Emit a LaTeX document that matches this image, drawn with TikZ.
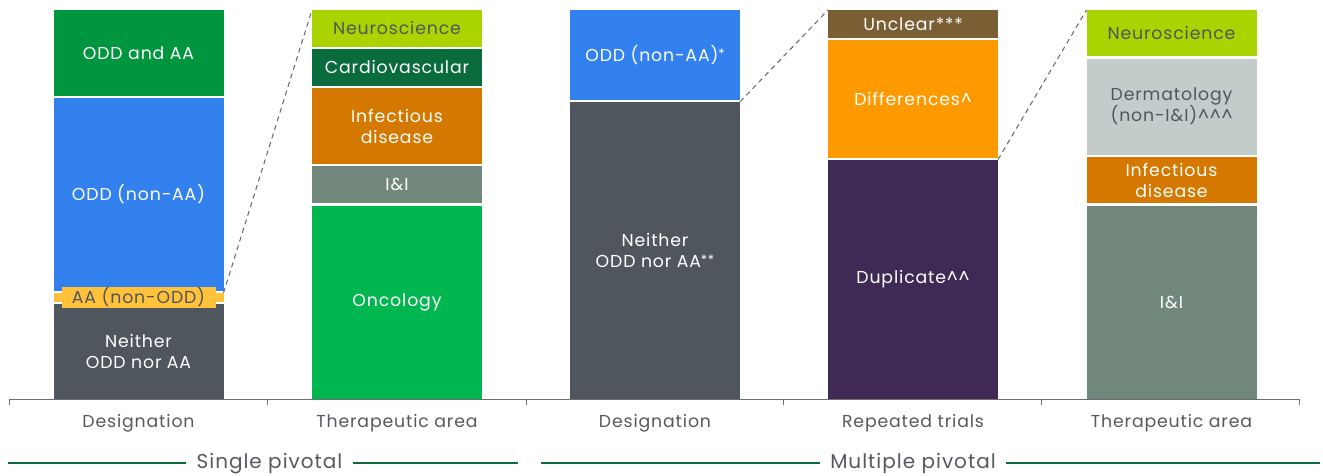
\documentclass[tikz,border=0pt]{standalone}
\usepackage{fontspec}
\setmainfont{Poppins}[LetterSpace=5]
\definecolor{cdark}{HTML}{4F565E}
\definecolor{cblue}{HTML}{3381EE}
\definecolor{cgreen}{HTML}{00963F}
\definecolor{cyellow}{HTML}{FFC23A}
\definecolor{clime}{HTML}{AAD400}
\definecolor{ccardio}{HTML}{0A6B3C}
\definecolor{cinf}{HTML}{D57800}
\definecolor{cii}{HTML}{72877B}
\definecolor{conc}{HTML}{00B74F}
\definecolor{cbrown}{HTML}{7A5E34}
\definecolor{corange}{HTML}{FF9900}
\definecolor{cpurple}{HTML}{3F2A56}
\definecolor{cderm}{HTML}{C3CCCB}
\definecolor{caxis}{HTML}{6E6E6E}
\definecolor{ctext}{HTML}{555A5F}
\definecolor{cgroup}{HTML}{0A6B3C}
\tikzset{
  seg/.style={rectangle, inner sep=0pt, outer sep=0pt, minimum width=170pt, align=center,
    font=\fontsize{17.3}{21}\selectfont, text=white},
  darktext/.style={text=cdark},
  zoomline/.style={draw=cdark!90, dash pattern=on 5pt off 4pt, line width=1pt},
  axisline/.style={draw=caxis, line width=0.9pt},
  axislabel/.style={font=\fontsize{17.3}{20}\selectfont, text=ctext},
  grouplabel/.style={font=\fontsize{20}{22}\selectfont, text=ctext, inner xsep=10pt},
  groupline/.style={draw=cgroup, line width=1.8pt}
}
\newcommand{\seg}[7]{% name, xcenter, ytop, ybottom, fill, extra, text
  \node[seg, fill=#5, minimum height={#4pt-#3pt}, #6] (#1) at (#2,{(#3+#4)/2}) {#7};}
\newcommand{\stars}[1]{\raisebox{2.5pt}{\fontsize{13}{13}\selectfont #1}}
\begin{document}
\begin{tikzpicture}[x=1pt,y=-1pt]
\useasboundingbox[fill=white] (0,0) rectangle (1323,475);
% Bar 1: Designation (single pivotal)
\seg{b1a}{138.5}{10}{96}{cgreen}{}{ODD and AA}
\seg{b1b}{138.5}{97.5}{290.5}{cblue}{}{ODD (non-AA)}
\seg{b1c}{138.5}{293}{301.5}{cyellow}{}{}
\seg{b1d}{138.5}{303.5}{399}{cdark}{}{Neither\\ODD nor AA}
\node[rectangle, fill=cyellow, text=cdark, inner sep=0pt, minimum width=154pt, minimum height=20.5pt,
  font=\fontsize{17.3}{20}\selectfont] (b1lab) at (b1c.center) {AA (non-ODD)};
% Bar 2: Therapeutic area (single pivotal)
\seg{b2a}{397}{10}{46.5}{clime}{darktext}{Neuroscience}
\seg{b2b}{397}{48.5}{86}{ccardio}{}{Cardiovascular}
\seg{b2c}{397}{88}{164}{cinf}{}{Infectious\\disease}
\seg{b2d}{397}{166}{203}{cii}{}{I\&I}
\seg{b2e}{397}{205.5}{399}{conc}{}{Oncology}
% Bar 3: Designation (multiple pivotal)
\seg{b3a}{655}{10}{99.8}{cblue}{}{ODD (non-AA)\stars{*}}
\seg{b3b}{655}{101.8}{399}{cdark}{}{Neither\\ODD nor AA\stars{**}}
% Bar 4: Repeated trials
\seg{b4a}{913}{10}{37.5}{cbrown}{}{Unclear***}
\seg{b4b}{913}{39.5}{157.5}{corange}{}{Differences\textasciicircum}
\seg{b4c}{913}{159.5}{399}{cpurple}{}{Duplicate\textasciicircum\textasciicircum}
% Bar 5: Therapeutic area (multiple pivotal)
\seg{b5a}{1171.5}{10}{56}{clime}{darktext}{Neuroscience}
\seg{b5b}{1171.5}{58.5}{154.5}{cderm}{darktext}{Dermatology\\(non-I\&I)\textasciicircum\textasciicircum\textasciicircum}
\seg{b5c}{1171.5}{157}{203}{cinf}{}{Infectious\\disease}
\seg{b5d}{1171.5}{205.5}{399}{cii}{}{I\&I}
% zoom connectors
\draw[zoomline] (b1c.north east) -- (b2a.north west);
\draw[zoomline] (b3b.north east) -- (b4a.north west);
\draw[zoomline] (b4c.north east) -- (b5a.north west);
% axis
\coordinate (t0) at (9,399);
\coordinate (t1) at (267,399);
\coordinate (t2) at (526,399);
\coordinate (t3) at (783.5,399);
\coordinate (t4) at (1041.5,399);
\coordinate (t5) at (1299.5,399);
\draw[axisline] (t0) -- (t5);
\foreach \t in {t0,t1,t2,t3,t4,t5} \draw[axisline] (\t) -- ++(0,6);
\node[axislabel] (l1) at (138.5,423.5) {Designation};
\node[axislabel] (l2) at (397,423.5) {Therapeutic area};
\node[axislabel] (l3) at (655,423.5) {Designation};
\node[axislabel] (l4) at (913,423.5) {Repeated trials};
\node[axislabel] (l5) at (1171.5,423.5) {Therapeutic area};
% group labels
\node[grouplabel] (g1) at (269.5,463.5) {Single pivotal};
\node[grouplabel] (g2) at (913,463.5) {Multiple pivotal};
\coordinate (g1l) at (8,463);
\coordinate (g1r) at (518,463);
\coordinate (g2l) at (541,463);
\coordinate (g2r) at (1320,463);
\draw[groupline] (g1l) -- (g1.west |- g1l);
\draw[groupline] (g1.east |- g1r) -- (g1r);
\draw[groupline] (g2l) -- (g2.west |- g2l);
\draw[groupline] (g2.east |- g2r) -- (g2r);
\end{tikzpicture}
\end{document}
